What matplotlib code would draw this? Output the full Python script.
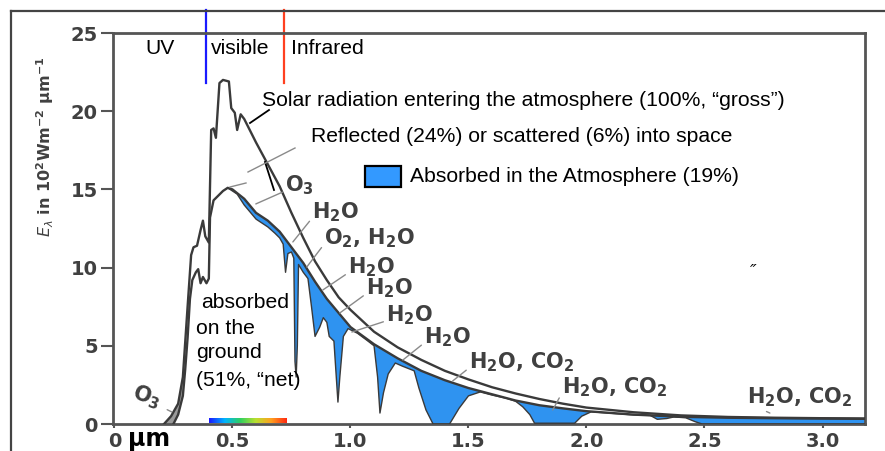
import numpy as np
import matplotlib
matplotlib.use('Agg')
import matplotlib.pyplot as plt
from matplotlib.lines import Line2D
from matplotlib.patches import Rectangle
from matplotlib.colors import LinearSegmentedColormap
import matplotlib.transforms as mtransforms

plt.rcParams['mathtext.fontset'] = 'dejavusans'

# ---------------- data ----------------
# Solar radiation at top of atmosphere ("gross"), 10^2 W m^-2 um^-1
wl_gross = [0.21, 0.24, 0.27, 0.29, 0.31, 0.325, 0.335, 0.35, 0.365, 0.375, 0.385,
            0.40, 0.41, 0.42, 0.43, 0.445, 0.46, 0.485, 0.495, 0.51, 0.52, 0.535,
            0.55, 0.60, 0.65, 0.70, 0.75, 0.80, 0.85, 0.90, 0.95, 1.00, 1.10, 1.20,
            1.30, 1.40, 1.50, 1.60, 1.70, 1.80, 1.90, 2.00, 2.20, 2.40, 2.60, 2.80,
            3.00, 3.18]
e_gross = [0.0, 0.5, 1.3, 3.0, 7.5, 10.8, 11.3, 11.4, 12.4, 13.0, 12.0,
           11.6, 18.8, 18.9, 18.3, 21.8, 22.0, 21.9, 20.2, 19.9, 18.8, 19.8,
           19.5, 18.0, 16.6, 15.2, 13.5, 11.9, 10.4, 9.2, 8.1, 7.3, 5.9, 4.9,
           4.1, 3.4, 2.85, 2.35, 1.95, 1.6, 1.3, 1.05, 0.75, 0.55, 0.45, 0.40,
           0.37, 0.35]

# After reflection / scattering (envelope of radiation reaching the ground)
wl_net = [0.25, 0.27, 0.29, 0.30, 0.31, 0.32, 0.33, 0.345, 0.355, 0.365, 0.375,
          0.39, 0.40, 0.405, 0.42, 0.44, 0.46, 0.48, 0.50, 0.55, 0.60, 0.65,
          0.70, 0.75, 0.80, 0.85, 0.90, 0.95, 1.00, 1.10, 1.20, 1.30, 1.40,
          1.50, 1.60, 1.70, 1.80, 1.90, 2.00, 2.20, 2.40, 2.60, 2.80, 3.00, 3.18]
e_net = [0.0, 0.6, 1.8, 3.5, 5.5, 8.0, 9.2, 9.7, 9.9, 9.0, 9.4,
         9.0, 9.3, 13.2, 14.3, 14.6, 14.9, 15.1, 15.0, 14.4, 13.5, 13.0,
         12.3, 11.3, 10.3, 9.1, 8.0, 7.1, 6.2, 5.1, 4.2, 3.4, 2.8,
         2.3, 1.9, 1.5, 1.2, 1.0, 0.82, 0.6, 0.46, 0.40, 0.37, 0.35, 0.33]

# Radiation absorbed on the ground (with atmospheric absorption bands)
wl_ground = [0.48, 0.52, 0.55, 0.60, 0.65, 0.68, 0.70, 0.715, 0.725, 0.735, 0.75,
             0.76, 0.765, 0.77, 0.775, 0.78, 0.80, 0.82, 0.835, 0.85, 0.87, 0.885,
             0.90, 0.91, 0.93, 0.94, 0.947, 0.955, 0.97, 0.99, 1.03, 1.07, 1.10,
             1.115, 1.125, 1.14, 1.16, 1.19, 1.22, 1.27, 1.29, 1.32, 1.35, 1.42,
             1.46, 1.50, 1.55, 1.60, 1.66, 1.70, 1.73, 1.76, 1.78, 1.95, 1.98,
             2.02, 2.20, 2.27, 2.30, 2.34, 2.37, 2.42, 2.46, 2.49, 3.18]
e_ground = [15.1, 14.7, 14.0, 13.1, 12.6, 12.2, 11.9, 11.5, 9.7, 10.9, 11.0,
            10.6, 4.0, 3.0, 5.0, 10.2, 9.7, 9.3, 7.5, 5.6, 6.2, 6.8,
            6.5, 5.6, 5.3, 3.0, 1.4, 3.0, 5.6, 6.1, 5.8, 5.35, 5.0,
            3.0, 0.7, 2.0, 3.2, 3.9, 3.7, 3.4, 2.3, 0.9, 0.0, 0.0,
            1.0, 1.8, 2.05, 1.85, 1.65, 1.45, 1.1, 0.6, 0.05, 0.05, 0.5,
            0.78, 0.58, 0.55, 0.30, 0.35, 0.45, 0.40, 0.15, 0.0, 0.0]

band_edges = [0.39, 0.72]          # UV | visible | infrared
visible_band = [0.40, 0.73]
x_ticks = [0, 0.5, 1.0, 1.5, 2.0, 2.5, 3.0]
x_tick_labels = ['0', '0.5', '1.0', '1.5', '2.0', '2.5', '3.0']
y_ticks = [0, 5, 10, 15, 20, 25]
y_tick_labels = ['0', '5', '10', '15', '20', '25']

H2O = r'H$_\mathbf{2}$O'
CO2 = r'CO$_\mathbf{2}$'
O3 = r'O$_\mathbf{3}$'
O2 = r'O$_\mathbf{2}$'
# absorber labels: text, label centre (um, value), leader end (um, value)
absorbers = [
    (O3, (0.785, 15.28), (0.599, 14.07)),
    (H2O, (0.938, 13.56), (0.756, 11.64)),
    (O2 + ', ' + H2O, (1.082, 11.89), (0.815, 10.04)),
    (H2O, (1.090, 10.04), (0.883, 8.57)),
    (H2O, (1.166, 8.70), (0.955, 7.10)),
    (H2O, (1.251, 6.97), (1.006, 5.88)),
    (H2O, (1.412, 5.56), (1.222, 4.09)),
    (H2O + ', ' + CO2, (1.726, 3.96), (1.433, 2.75)),
    (H2O + ', ' + CO2, (2.120, 2.37), (1.857, 0.90)),
    (H2O + ', ' + CO2, (2.904, 1.73), (2.777, 0.70)),
]

# ---------------- figure ----------------
W, H = 885, 451
fig = plt.figure(figsize=(W / 100, H / 100), dpi=100)
fig.patch.set_facecolor('white')

def fx(px):
    return px / W

def fy(py):
    return 1 - py / H

ax = fig.add_axes([fx(113), fy(424), (865 - 113) / W, (424 - 33) / H])

line_col = '#3a3a3a'
blue = '#2f93f0'

wg = np.array(wl_gross); eg = np.array(e_gross)
wn = np.array(wl_net); en = np.array(e_net)
wd = np.array(wl_ground); ed = np.array(e_ground)

# grey O3 absorption (UV)
mg = wg <= 0.29
mn = wn <= 0.29
ax.fill(np.concatenate([wg[mg], wn[mn][::-1]]),
        np.concatenate([eg[mg], en[mn][::-1]]),
        color='#9a9a9a', lw=0, zorder=2)

# blue: absorbed in the atmosphere
mb = wn >= 0.48
ax.fill(np.concatenate([wn[mb], wd[::-1]]),
        np.concatenate([en[mb], ed[::-1]]),
        color=blue, lw=0, zorder=2)

ax.plot(wd, ed, color=line_col, lw=1.0, zorder=3)
ax.plot(wn, en, color=line_col, lw=1.7, zorder=4)
ax.plot(wg, eg, color=line_col, lw=1.7, zorder=4)

# visible colour bar
cmap = LinearSegmentedColormap.from_list(
    'vis', ['#1a1aff', '#00b4ff', '#30d060', '#b8e030', '#ffa020', '#ff2a10'])
ax.imshow(np.linspace(0, 1, 200)[None, :], cmap=cmap, aspect='auto',
          extent=[visible_band[0], visible_band[1], 0.06, 0.32], zorder=5)
ax.set_xlim(-0.006, 3.18)
ax.set_ylim(0, 25)

# axes styling
for s in ax.spines.values():
    s.set_color('#555555')
    s.set_linewidth(2.0)
ax.set_xticks(x_ticks)
ax.set_xticklabels(x_tick_labels)
ax.set_yticks(y_ticks)
ax.set_yticklabels(y_tick_labels)
for lab in ax.get_xticklabels() + ax.get_yticklabels():
    lab.set_fontfamily('DejaVu Sans')
    lab.set_fontweight('bold')
    lab.set_fontsize(14)
    lab.set_color('#404040')
ax.tick_params(axis='y', direction='out', length=9, width=1.5, color='#555555', pad=2)
ax.tick_params(axis='x', direction='out', length=3, width=1.5, color='#555555', pad=3)

# absorber labels with leader lines
chem_kw = dict(family='DejaVu Sans', weight='bold', size=15, color='#404040')
for txt, (tx, ty), (lx, ly) in absorbers:
    ax.annotate(txt, xy=(lx, ly), xytext=(tx, ty), ha='center', va='center',
                arrowprops=dict(arrowstyle='-', color='#8a8a8a', lw=1.0,
                                shrinkA=0, shrinkB=0, relpos=(0.0, 0.25)),
                zorder=6, **chem_kw)
ax.annotate(O3, xy=(0.243, 0.77), xytext=(0.137, 1.73), ha='center', va='center',
            rotation=-20,
            arrowprops=dict(arrowstyle='-', color='#8a8a8a', lw=1.0,
                            shrinkA=0, shrinkB=0, relpos=(0.9, 0.2)),
            zorder=6, **chem_kw)

# outer frame of the scanned figure
fig.add_artist(Line2D([fx(10.5), fx(10.5)], [0, fy(11)], color='#444444', lw=1.6,
                      transform=fig.transFigure))
fig.add_artist(Line2D([fx(10.5), 1.0], [fy(11), fy(11)], color='#444444', lw=1.6,
                      transform=fig.transFigure))

# UV / visible / infrared boundary markers
trans = mtransforms.blended_transform_factory(ax.transData, ax.transAxes)
ax.plot([band_edges[0]] * 2, [(424 - 10) / 391, (424 - 83) / 391], color='#1a1aff',
        lw=1.6, transform=trans, clip_on=False)
ax.plot([band_edges[1]] * 2, [(424 - 10) / 391, (424 - 83) / 391], color='#ff4020',
        lw=1.6, transform=trans, clip_on=False)

txt_kw = dict(family=['Liberation Sans', 'DejaVu Sans'], size=15.2, color='black',
              va='center', ha='left')
fig.text(fx(145), fy(48), "UV", **txt_kw)
fig.text(fx(211), fy(48), "visible", **txt_kw)
fig.text(fx(291), fy(48), "Infrared", **txt_kw)
fig.text(fx(262), fy(101), "Solar radiation entering the atmosphere (100%, “gross”)", **txt_kw)
fig.text(fx(311), fy(137), "Reflected (24%) or scattered (6%) into space", **txt_kw)
fig.add_artist(Rectangle((fx(365), fy(187)), 36 / W, 21 / H, facecolor='#3399ff',
                         edgecolor='black', lw=1.6, transform=fig.transFigure))
fig.text(fx(410), fy(177), "Absorbed in the Atmosphere (19%)", **txt_kw)
fig.text(fx(201), fy(302), "absorbed", **txt_kw)
fig.text(fx(196), fy(328), "on the", **txt_kw)
fig.text(fx(196), fy(353), "ground", **txt_kw)
fig.text(fx(196), fy(380), "(51%, “net)", **txt_kw)
fig.text(fx(750), fy(272), "″", family='DejaVu Sans', size=13, style='italic',
         va='center', ha='left')

# pointer lines of the overlay
for (x0, y0, x1, y1, c, w) in [(250, 123, 269, 110, 'black', 1.3),
                               (265, 162, 274, 190, 'black', 1.3),
                               (248, 172, 295, 148, '#8a8a8a', 1.0),
                               (230, 187, 246, 183, '#8a8a8a', 1.0)]:
    fig.add_artist(Line2D([fx(x0), fx(x1)], [fy(y0), fy(y1)], color=c, lw=w,
                          transform=fig.transFigure))

# y-axis label
fig.text(fx(45), fy(147),
         r"$\mathbf{\mathit{E}}_\lambda$ in 10$^\mathbf{2}$Wm$^\mathbf{-2}$ µm$^\mathbf{-1}$",
         rotation=90, family='DejaVu Sans', weight='bold', size=11.5, color='#404040',
         ha='center', va='center')

# unit under axis
fig.text(fx(149), fy(439), "µm", family='DejaVu Sans', weight='bold', size=17,
         color='black', ha='center', va='center')

fig.savefig('out.png', dpi=100, facecolor='white')
